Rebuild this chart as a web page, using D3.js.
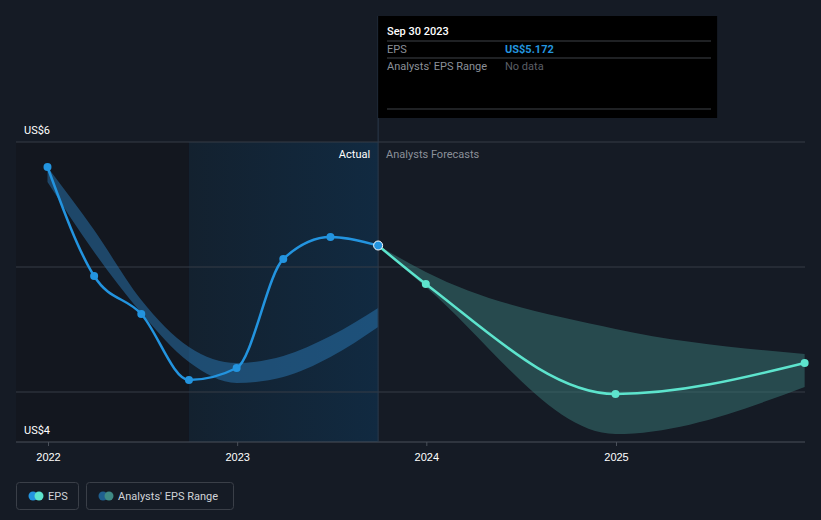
<!DOCTYPE html>
<html>
<head>
<meta charset="utf-8">
<script src="https://cdn.jsdelivr.net/npm/d3@7"></script>
<style>
  html, body { margin: 0; padding: 0; background: #151b25; }
  svg { display: block; font-family: Roboto, "Noto Sans", sans-serif; }
</style>
</head>
<body>
<svg id="chart" width="821" height="520"></svg>
<script>
// ---- data ----
const epsDates = ["2021-12-31","2022-03-31","2022-06-30","2022-09-30","2022-12-31","2023-03-31","2023-06-30","2023-09-30"];
const epsValues = [5.80, 4.928, 4.624, 4.096, 4.192, 5.064, 5.24, 5.172];

const pastRangeDates = ["2021-12-31","2022-03-31","2022-06-30","2022-09-30","2022-12-31","2023-03-31","2023-06-30","2023-09-30"];
const pastRangeHigh = [5.80, 5.296, 4.736, 4.36, 4.232, 4.288, 4.448, 4.672];
const pastRangeLow  = [5.68, 5.12, 4.632, 4.24, 4.072, 4.12, 4.28, 4.52];

const fcDates = ["2023-09-30","2023-12-31","2024-12-31","2025-12-31"];
const fcValues = [5.172, 4.864, 3.984, 4.232];
const fcHigh = [5.172, 4.96, 4.504, 4.304];
const fcLow  = [5.172, 4.84, 3.664, 4.04];

const xTickLabels = ["2022","2023","2024","2025"];
const yLabels = [{label:"US$6", v:6}, {label:"US$4", v:4}];
const gridValues = [6, 5, 4];

const tooltipDate = "Sep 30 2023";
const tooltipEps = "US$5.172";
const tooltipRange = "No data";

(function () {
// ---- setup ----
const parse = d3.timeParse("%Y-%m-%d");
const svg = d3.select("#chart");
const W = 821, H = 520;
const pLeft = 16, pRight = 805, pTop = 142, pBottom = 442;

const x = d3.scaleTime()
  .domain([parse("2022-01-01"), parse("2025-01-01")])
  .range([48, 616]);
const y = d3.scaleLinear().domain([4, 6]).range([392, 142]);

const xSep = x(parse("2022-09-30"));
const xNow = x(parse("2023-09-30"));

svg.append("rect").attr("width", W).attr("height", H).attr("fill", "#151b25");

const defs = svg.append("defs");
const grad = defs.append("linearGradient").attr("id", "hl").attr("x1", "0").attr("x2", "1").attr("y1", "0").attr("y2", "0");
grad.append("stop").attr("offset", "0%").attr("stop-color", "#13212f");
grad.append("stop").attr("offset", "100%").attr("stop-color", "#112a41");

svg.append("rect").attr("x", pLeft).attr("y", pTop).attr("width", xSep - pLeft).attr("height", pBottom - pTop).attr("fill", "#13171f");
svg.append("rect").attr("x", xSep).attr("y", pTop).attr("width", xNow - xSep).attr("height", pBottom - pTop).attr("fill", "url(#hl)");

svg.append("g").selectAll("line").data(gridValues).join("line")
  .attr("x1", pLeft).attr("x2", pRight)
  .attr("y1", d => y(d)).attr("y2", d => y(d))
  .attr("stroke", "#363c47").attr("stroke-width", 1);

const xAxis = d3.axisBottom(x)
  .tickValues(xTickLabels.map(t => parse(t + "-01-01")))
  .tickFormat((d, i) => xTickLabels[i])
  .tickSize(4).tickSizeOuter(0);
const gx = svg.append("g").attr("transform", `translate(0,${pBottom})`).call(xAxis);
gx.select(".domain").remove();
gx.selectAll(".tick line").attr("stroke", "#4a505a");
gx.selectAll(".tick text").attr("fill", "#ffffff").attr("font-size", 11).attr("dy", "1.1em");
svg.append("line").attr("x1", pLeft).attr("x2", pRight).attr("y1", pBottom).attr("y2", pBottom).attr("stroke", "#4a505a");

svg.append("g").selectAll("text").data(yLabels).join("text")
  .attr("x", 24)
  .attr("y", d => d.v === 6 ? y(d.v) - 8 : pBottom - 8)
  .attr("fill", "#ffffff").attr("font-size", 11)
  .text(d => d.label);

const curve = d3.curveMonotoneX;

const pastRange = pastRangeDates.map((d, i) => ({ d: parse(d), hi: pastRangeHigh[i], lo: pastRangeLow[i] }));
svg.append("path").datum(pastRange)
  .attr("d", d3.area().x(d => x(d.d)).y0(d => y(d.lo)).y1(d => y(d.hi)).curve(curve))
  .attr("fill", "#2a77b3").attr("fill-opacity", 0.5);

const fcRange = fcDates.map((d, i) => ({ d: parse(d), hi: fcHigh[i], lo: fcLow[i] }));
svg.append("path").datum(fcRange)
  .attr("d", d3.area().x(d => x(d.d)).y0(d => y(d.lo)).y1(d => y(d.hi)).curve(curve))
  .attr("fill", "#3a7a78").attr("fill-opacity", 0.5);

svg.append("line").attr("x1", xNow).attr("x2", xNow).attr("y1", 16).attr("y2", pBottom)
  .attr("stroke", "#2b3a4c").attr("stroke-width", 1);

const fc = fcDates.map((d, i) => ({ d: parse(d), v: fcValues[i] }));
svg.append("path").datum(fc)
  .attr("d", d3.line().x(d => x(d.d)).y(d => y(d.v)).curve(curve))
  .attr("fill", "none").attr("stroke", "#5de4cd").attr("stroke-width", 2.5);
svg.append("g").selectAll("circle").data(fc.slice(1)).join("circle")
  .attr("cx", d => x(d.d)).attr("cy", d => y(d.v)).attr("r", 4).attr("fill", "#5de4cd");

const eps = epsDates.map((d, i) => ({ d: parse(d), v: epsValues[i] }));
svg.append("path").datum(eps)
  .attr("d", d3.line().x(d => x(d.d)).y(d => y(d.v)).curve(curve))
  .attr("fill", "none").attr("stroke", "#2394df").attr("stroke-width", 2.5);
svg.append("g").selectAll("circle").data(eps).join("circle")
  .attr("cx", d => x(d.d)).attr("cy", d => y(d.v))
  .attr("r", (d, i) => i === eps.length - 1 ? 4.5 : 4)
  .attr("fill", "#2394df")
  .attr("stroke", (d, i) => i === eps.length - 1 ? "#ffffff" : "none")
  .attr("stroke-width", 1);

svg.append("text").attr("x", xNow - 8).attr("y", 158).attr("text-anchor", "end")
  .attr("fill", "#ffffff").attr("font-size", 11).text("Actual");
svg.append("text").attr("x", xNow + 8).attr("y", 158)
  .attr("fill", "#8b9099").attr("font-size", 11).text("Analysts Forecasts");

const tt = svg.append("g");
tt.append("rect").attr("x", xNow).attr("y", 16).attr("width", 339).attr("height", 102).attr("fill", "#000000");
tt.append("text").attr("x", 387).attr("y", 35).attr("fill", "#ffffff").attr("font-size", 11).attr("font-weight", 500).text(tooltipDate);
[41, 58, 109].forEach(yy => tt.append("line").attr("x1", 387).attr("x2", 711).attr("y1", yy).attr("y2", yy).attr("stroke", "#3e4249"));
tt.append("text").attr("x", 387).attr("y", 53).attr("fill", "#8b9099").attr("font-size", 11).text("EPS");
tt.append("text").attr("x", 505).attr("y", 53).attr("fill", "#2394df").attr("font-size", 11).attr("font-weight", 700).text(tooltipEps);
tt.append("text").attr("x", 387).attr("y", 70).attr("fill", "#8b9099").attr("font-size", 11).text("Analysts' EPS Range");
tt.append("text").attr("x", 505).attr("y", 70).attr("fill", "#5b5f66").attr("font-size", 11).text(tooltipRange);

const legendItems = [
  { label: "EPS", c1: "#2394df", c2: "#5de4cd", x: 16, w: 62 },
  { label: "Analysts' EPS Range", c1: "#1f5f8f", c2: "#3f8a85", x: 86, w: 147 }
];
const lg = svg.append("g").selectAll("g").data(legendItems).join("g")
  .attr("transform", d => `translate(${d.x},482)`);
lg.append("rect").attr("x", 0.5).attr("y", 0.5).attr("width", d => d.w).attr("height", 27).attr("rx", 3)
  .attr("fill", "none").attr("stroke", "#3a3f48");
lg.append("circle").attr("cx", 17).attr("cy", 14).attr("r", 4.5).attr("fill", d => d.c1);
lg.append("circle").attr("cx", 23).attr("cy", 14).attr("r", 4.5).attr("fill", d => d.c2);
lg.append("text").attr("x", 32).attr("y", 18).attr("fill", "#d0d3d8").attr("font-size", 11).text(d => d.label);
})();
</script>
</body>
</html>
